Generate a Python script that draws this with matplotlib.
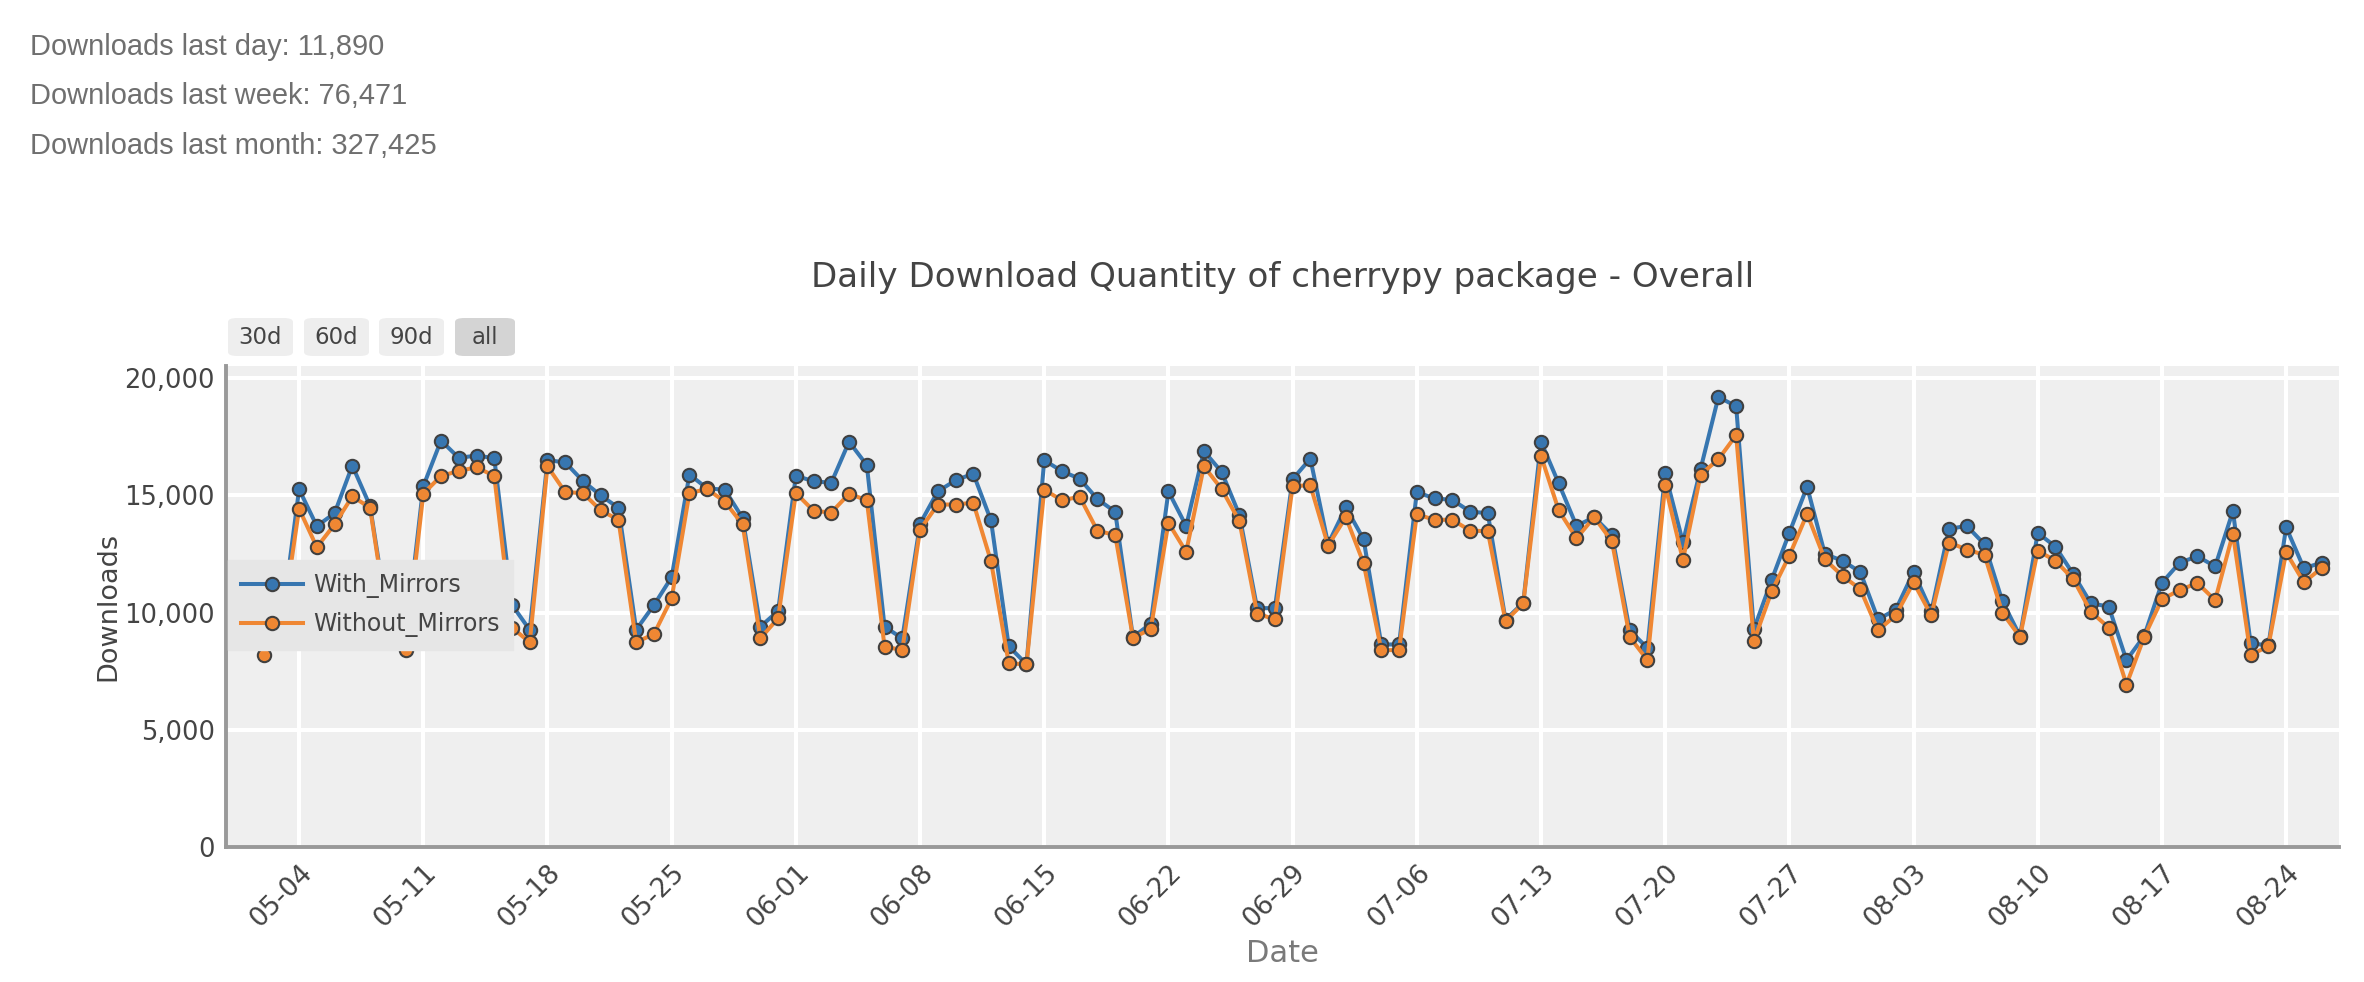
import matplotlib
matplotlib.use("Agg")
import matplotlib.pyplot as plt
import matplotlib.dates as mdates
from matplotlib.patches import FancyBboxPatch
from matplotlib.ticker import FuncFormatter, MultipleLocator
import pandas as pd

# ---------------- data ----------------
start_date = "2025-05-02"
end_date = "2025-08-26"

with_mirrors = [
    # May 02 - May 31
    8600, 9450, 15260, 13690, 14240, 16270, 14550, 9700, 8800, 15390,
    17340, 16600, 16700, 16590, 10330, 9260, 16500, 16410, 15610, 15000,
    14470, 9270, 10320, 11510, 15890, 15300, 15240, 14030, 9400, 10070,
    # Jun 01 - Jun 30
    15840, 15600, 15540, 17290, 16290, 9400, 8900, 13790, 15170, 15640,
    15930, 13930, 8560, 7800, 16500, 16030, 15710, 14840, 14300, 8950,
    9530, 15170, 13690, 16890, 16000, 14170, 10190, 10190, 15690, 16570,
    # Jul 01 - Jul 31
    12930, 14490, 13130, 8640, 8640, 15140, 14870, 14810, 14310, 14240,
    9700, 10420, 17290, 15510, 13700, 14070, 13310, 9240, 8490, 15940,
    13000, 16140, 19200, 18800, 9290, 11390, 13410, 15370, 12500, 12210,
    11730,
    # Aug 01 - Aug 26
    9710, 10130, 11730, 10050, 13570, 13700, 12910, 10500, 9000, 13400,
    12810, 11640, 10390, 10260, 7970, 9000, 11270, 12130, 12400, 11970,
    14330, 8690, 8600, 13640, 11890, 12130,
]

without_mirrors = [
    # May 02 - May 31
    8190, 9250, 14430, 12790, 13760, 14960, 14470, 9500, 8390, 15070,
    15830, 16040, 16200, 15830, 9360, 8730, 16240, 15140, 15100, 14360,
    13960, 8740, 9080, 10610, 15100, 15270, 14730, 13760, 8900, 9760,
    # Jun 01 - Jun 30
    15100, 14340, 14270, 15070, 14790, 8540, 8410, 13540, 14610, 14610,
    14690, 12190, 7840, 7790, 15240, 14790, 14940, 13490, 13310, 8930,
    9290, 13830, 12590, 16240, 15270, 13900, 9960, 9710, 15400, 15430,
    # Jul 01 - Jul 31
    12860, 14070, 12110, 8400, 8400, 14190, 13960, 13960, 13500, 13470,
    9640, 10390, 16690, 14360, 13170, 14070, 13040, 8960, 7970, 15430,
    12240, 15890, 16540, 17570, 8790, 10900, 12430, 14210, 12270, 11560,
    11000,
    # Aug 01 - Aug 26
    9240, 9890, 11290, 9880, 12990, 12690, 12460, 10000, 8960, 12640,
    12210, 11430, 10030, 9360, 6930, 8960, 10570, 10960, 11260, 10530,
    13370, 8190, 8570, 12570, 11290, 11900,
]

series_names = ["With_Mirrors", "Without_Mirrors"]
summary_lines = [
    "Downloads last day: 11,890",
    "Downloads last week: 76,471",
    "Downloads last month: 327,425",
]
range_buttons = ["30d", "60d", "90d", "all"]
title_text = "Daily Download Quantity of cherrypy package - Overall"

dates = pd.date_range(start_date, end_date, freq="D")

# ---------------- style ----------------
W, H = 2364, 982
BLUE = "#3776b0"
ORANGE = "#ef8733"
EDGE = "#404040"
TXT = "#444444"

fig = plt.figure(figsize=(W / 100, H / 100), dpi=100)
fig.patch.set_facecolor("white")

ax_left, ax_right, ax_top, ax_bottom = 226, 2339, 366, 847
ax = fig.add_axes([ax_left / W, 1 - ax_bottom / H,
                   (ax_right - ax_left) / W, (ax_bottom - ax_top) / H])
ax.set_facecolor("#efefef")

for name, vals, col, z in [(series_names[0], with_mirrors, BLUE, 3),
                           (series_names[1], without_mirrors, ORANGE, 4)]:
    ax.plot(dates, vals, color=col, lw=2.9, marker="o", markersize=9.6,
            markerfacecolor=col, markeredgecolor=EDGE, markeredgewidth=1.5,
            label=name, zorder=z)

# axes ranges
ax.set_ylim(0, 20520)
ax.set_xlim(dates[0] - pd.Timedelta(days=2.12), dates[-1] + pd.Timedelta(days=0.98))

ax.yaxis.set_major_locator(MultipleLocator(5000))
ax.yaxis.set_major_formatter(FuncFormatter(lambda v, p: f"{int(v):,}"))
ax.xaxis.set_major_locator(mdates.WeekdayLocator(byweekday=mdates.SU))
ax.xaxis.set_major_formatter(mdates.DateFormatter("%m-%d"))

ax.grid(True, color="white", lw=2.9, zorder=0)
ax.set_axisbelow(True)
ax.tick_params(axis="y", length=0, labelsize=18.5, labelcolor=TXT, pad=8)
ax.tick_params(axis="x", length=0, labelsize=19, labelcolor=TXT, pad=9)
for lab in ax.get_xticklabels():
    lab.set_rotation(45)
    lab.set_ha("right")
    lab.set_va("top")
    lab.set_rotation_mode("anchor")

for s in ["top", "right"]:
    ax.spines[s].set_visible(False)
for s in ["left", "bottom"]:
    ax.spines[s].set_color("#999999")
    ax.spines[s].set_linewidth(2.8)

ax.set_ylabel("Downloads", fontsize=19.5, color=TXT)
ax.yaxis.set_label_coords(-(ax_left - 108) / (ax_right - ax_left), 0.5)
ax.set_xlabel("Date", fontsize=22, color="#7a7a7a")
ax.xaxis.set_label_coords(0.5, -(953 - ax_bottom) / (ax_bottom - ax_top))
ax.xaxis.label.set_va("center")
ax.yaxis.label.set_va("center")

leg = ax.legend(loc="upper left", bbox_to_anchor=(0.0, 0.601), fontsize=17,
                frameon=True, fancybox=False, facecolor="#e6e6e6",
                edgecolor="#e6e6e6", framealpha=1.0, handlelength=2.6,
                handletextpad=0.45, borderpad=0.55, labelspacing=0.6,
                borderaxespad=0.1)
for t in leg.get_texts():
    t.set_color(TXT)
leg.set_zorder(10)

# title (centred over the plot area)
fig.text((ax_left + ax_right) / 2 / W, 1 - 287 / H, title_text,
         ha="center", va="baseline", fontsize=24.6, color=TXT)

# summary text at top
for i, line in enumerate(summary_lines):
    fig.text(30 / W, 1 - (55 + 49.5 * i) / H, line, ha="left", va="baseline",
             fontsize=20.9, color="#6f6f6f", family="Liberation Sans")

# range selector buttons
btn_x = [228, 304, 379, 455]
btn_w = [65, 65, 65, 60]
for lbl, bx, bw in zip(range_buttons, btn_x, btn_w):
    fc = "#d4d4d4" if lbl == "all" else "#eeeeee"
    patch = FancyBboxPatch((bx / W, 1 - 356 / H), bw / W, 38 / H,
                           boxstyle="round,pad=0,rounding_size=0.004",
                           transform=fig.transFigure, facecolor=fc,
                           edgecolor="none")
    fig.patches.append(patch)
    fig.text((bx + bw / 2) / W, 1 - 337 / H, lbl, ha="center", va="center",
             fontsize=16.5, color=TXT)

fig.savefig("out.png", dpi=100)
